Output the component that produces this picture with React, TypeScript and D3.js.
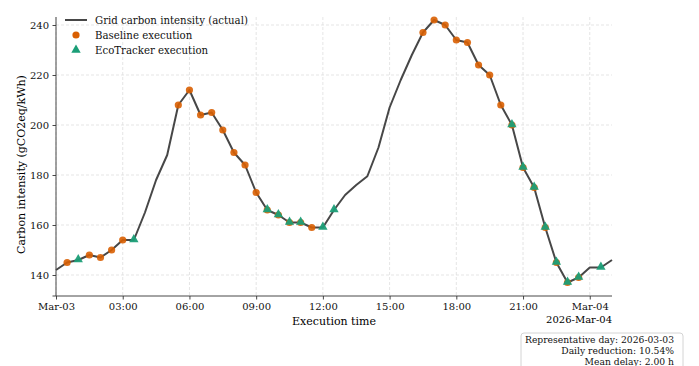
import { useRef, useEffect } from "react"
import * as d3 from "d3"

// grid intensity every 30 min, starting 2026-03-03 00:00
const intensity = [
  142, 145, 146, 148, 147, 150, 154, 154, 165, 178, 188, 208, 214, 204, 205, 198, 189, 184,
  173, 166, 164, 161, 161, 159, 159, 166, 172, 176, 179.5, 191, 207, 218, 228, 237, 242, 240,
  234, 233, 224, 220, 208, 200, 183, 175, 159, 145, 137, 139, 143, 143, 146,
]

// execution start times (hours after Mar-03 00:00)
const baselineHours = [
  0.5, 1.5, 2, 2.5, 3, 5.5, 6, 6.5, 7, 7.5, 8, 8.5, 9, 9.5, 10, 10.5, 11, 11.5, 16.5, 17, 17.5,
  18, 18.5, 19, 19.5, 20, 20.5, 21, 21.5, 22, 22.5, 23, 23.5,
]
const ecoHours = [1, 3.5, 9.5, 10, 10.5, 11, 12, 12.5, 20.5, 21, 21.5, 22, 22.5, 23, 23.5, 24.5]

const yTicks = [140, 160, 180, 200, 220, 240]
const legendItems = ["Grid carbon intensity (actual)", "Baseline execution", "EcoTracker execution"]
const infoLines = ["Representative day: 2026-03-03", "Daily reduction: 10.54%", "Mean delay: 2.00 h"]

const FONT = "DejaVu Serif, serif"
const LINE = "#474747"
const ORANGE = "#d95f02"
const GREEN = "#1b9e77"

const start = new Date(2026, 2, 3, 0, 0)
const at = (h: number) => new Date(start.getTime() + h * 3600 * 1000)

document.body.style.margin = "0"

const App = () => {
  const svgRef = useRef<SVGSVGElement>(null)

  useEffect(() => {
    const svg = d3.select(svgRef.current)
    svg.selectAll("*").remove()

    const left = 56, right = 612, top = 17, bottom = 296

    const x = d3.scaleTime().domain([at(0), at(25)]).range([left, right])
    const y = d3.scaleLinear().domain([131.6, 243.2]).range([bottom, top])
    const value = (h: number) => intensity[Math.round(h * 2)]

    const xTicks = d3.range(0, 25, 3).map(at)

    // grid
    const grid = svg.append("g")
    grid.selectAll("line.gx").data(xTicks).enter().append("line")
      .attr("x1", (d) => x(d)).attr("x2", (d) => x(d))
      .attr("y1", top).attr("y2", bottom)
    grid.selectAll("line.gy").data(yTicks).enter().append("line")
      .attr("x1", left).attr("x2", right)
      .attr("y1", (d) => y(d)).attr("y2", (d) => y(d))
    grid.selectAll("line")
      .attr("stroke", "#dedede").attr("stroke-width", 0.8).attr("stroke-dasharray", "3,2")

    // axes
    const fmt = (d: Date) => (d.getHours() === 0 ? d3.timeFormat("%b-%d")(d) : d3.timeFormat("%H:%M")(d))
    const xAxis = svg.append("g").attr("transform", `translate(0,${bottom})`)
      .call(d3.axisBottom(x).tickValues(xTicks).tickFormat(fmt as any).tickSize(3.5).tickPadding(3.5))
    const yAxis = svg.append("g").attr("transform", `translate(${left},0)`)
      .call(d3.axisLeft(y).tickValues(yTicks).tickSize(3.5).tickPadding(3.5))
    for (const ax of [xAxis, yAxis]) {
      ax.select(".domain").attr("stroke", "#333").attr("stroke-width", 0.9)
      ax.selectAll(".tick line").attr("stroke", "#333").attr("stroke-width", 0.9)
      ax.selectAll(".tick text").attr("fill", "#111").style("font-family", FONT).style("font-size", "10px")
    }
    // clip the y spine to the plot height
    yAxis.select(".domain").attr("d", `M-3.5,${y(131.6)}H0V${top}`)
    xAxis.select(".domain").attr("d", `M${left},0H${right}`)

    // line
    const line = d3.line<number>()
      .x((d, i) => x(at(i / 2)))
      .y((d) => y(d))
    svg.append("path").datum(intensity)
      .attr("fill", "none").attr("stroke", LINE).attr("stroke-width", 2)
      .attr("stroke-linejoin", "round").attr("d", line)

    // baseline points
    svg.append("g").selectAll("circle").data(baselineHours).enter().append("circle")
      .attr("cx", (d) => x(at(d))).attr("cy", (d) => y(value(d)))
      .attr("r", 3.6).attr("fill", ORANGE).attr("fill-opacity", 0.9)

    // EcoTracker points
    const tri = d3.symbol().type(d3.symbolTriangle).size(38)
    svg.append("g").selectAll("path").data(ecoHours).enter().append("path")
      .attr("d", tri)
      .attr("transform", (d) => `translate(${x(at(d))},${y(value(d)) - 0.5})`)
      .attr("fill", GREEN).attr("fill-opacity", 0.95)

    // labels
    svg.append("text").attr("x", (left + right) / 2).attr("y", 325)
      .attr("text-anchor", "middle").style("font-family", FONT).style("font-size", "11px")
      .text("Execution time")
    svg.append("text").attr("transform", `translate(25,${(top + bottom) / 2 + 8}) rotate(-90)`)
      .attr("text-anchor", "middle").style("font-family", FONT).style("font-size", "11px")
      .text("Carbon intensity (gCO2eq/kWh)")
    svg.append("text").attr("x", right).attr("y", 323)
      .attr("text-anchor", "end").style("font-family", FONT).style("font-size", "10px")
      .text(d3.timeFormat("%Y-%b-%d")(at(24)))

    // legend
    const lg = svg.append("g").attr("transform", "translate(65,20)")
    lg.append("line").attr("x1", 0).attr("x2", 22).attr("y1", 0).attr("y2", 0)
      .attr("stroke", LINE).attr("stroke-width", 2)
    lg.append("circle").attr("cx", 11).attr("cy", 15).attr("r", 3.6).attr("fill", ORANGE)
    lg.append("path").attr("d", tri).attr("transform", "translate(11,30)").attr("fill", GREEN)
    lg.selectAll("text").data(legendItems).enter().append("text")
      .attr("x", 30).attr("y", (d, i) => i * 15 + 3.5)
      .style("font-family", FONT).style("font-size", "10.2px").attr("fill", "#111")
      .text((d) => d)

    // info box
    const box = svg.append("g")
    box.append("rect").attr("x", 521).attr("y", 333).attr("width", 162).attr("height", 42)
      .attr("rx", 3).attr("fill", "white").attr("stroke", "#cfcfcf").attr("stroke-width", 0.9)
    box.selectAll("text").data(infoLines).enter().append("text")
      .attr("x", 674).attr("y", (d, i) => 342.5 + i * 11)
      .attr("text-anchor", "end").style("font-family", FONT).style("font-size", "9.2px").attr("fill", "#111")
      .text((d) => d)
  }, [])

  return <svg ref={svgRef} width={699} height={366} style={{ display: "block" }} />
}

export default App
